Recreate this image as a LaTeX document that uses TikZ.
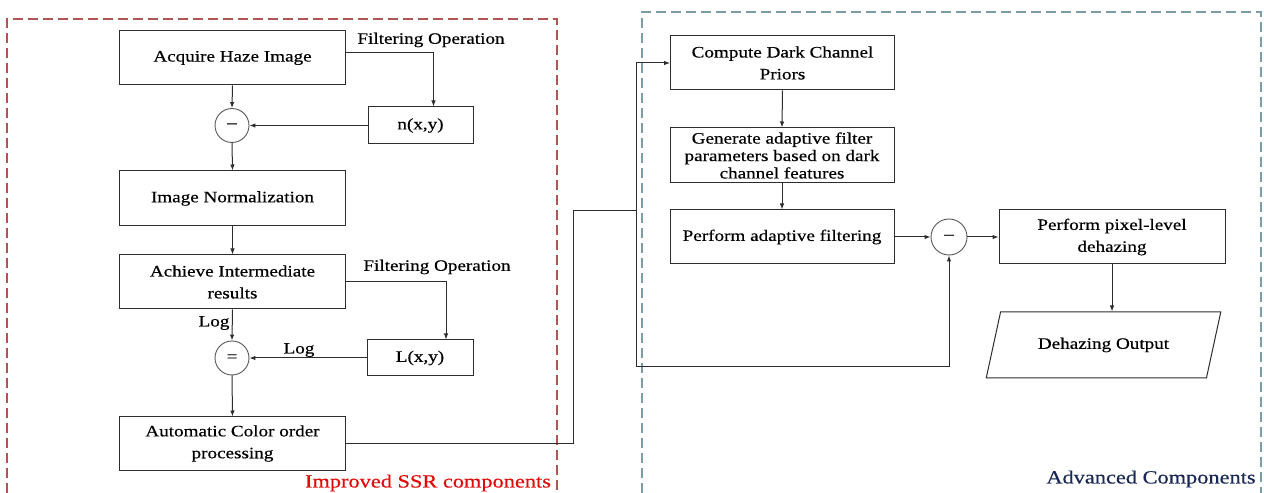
\documentclass[tikz,border=0pt]{standalone}
\usepackage{fontspec}
\setmainfont[FakeStretch=1.2,FakeBold=0.4]{Liberation Serif}
\usetikzlibrary{arrows.meta,shapes.geometric}
\definecolor{framered}{RGB}{176,84,84}
\definecolor{frameblue}{RGB}{125,156,166}
\definecolor{labelred}{RGB}{225,10,10}
\definecolor{labelnavy}{RGB}{25,40,85}
\definecolor{edge}{RGB}{45,45,45}
\tikzset{
  stepbox/.style={draw=edge, line width=1bp, fill=white, align=center,
    font=\fontsize{16}{22}\selectfont, inner sep=2bp},
  opcircle/.style={draw=edge!80, line width=0.9bp, circle, minimum size=34bp,
    inner sep=0pt, font=\fontsize{16}{16}\selectfont},
  wire/.style={draw=edge, line width=1bp},
  arr/.style={wire, -{Latex[length=6bp,width=4.5bp]}},
  tag/.style={font=\fontsize{16}{18}\selectfont, inner sep=1bp},
  area/.style={line width=1.1bp, dash pattern=on 10bp off 5bp},
}
\begin{document}
\begin{tikzpicture}[x=1bp,y=-1bp]
\useasboundingbox (0,0) rectangle (1264,493);
\fill[white] (0,0) rectangle (1264,493);

% component frames (open at the bottom)
\draw[area, framered] (7,493) -- (7,19) -- (557,19) -- (557,493);
\draw[area, frameblue] (642,493) -- (642,12) -- (1261,12) -- (1261,493);
\node[font=\fontsize{18.7}{20}\selectfont, text=labelred] (lblssr) at (428,483) {Improved SSR components};
\node[font=\fontsize{18.7}{20}\selectfont, text=labelnavy] (lbladv) at (1151,479) {Advanced Components};

% improved SSR chain
\node[stepbox, minimum width=225bp, minimum height=54bp] (acq) at (232.5,58) {Acquire Haze Image};
\node[stepbox, minimum width=105bp, minimum height=37bp] (nxy) at (420.5,125.5) {n(x,y)};
\node[opcircle] (sub1) at (232,125.5) {\textendash};
\node[stepbox, minimum width=225bp, minimum height=55bp] (norm) at (232.5,198.5) {Image Normalization};
\node[stepbox, minimum width=225bp, minimum height=54bp] (achv) at (232.5,282) {Achieve Intermediate\\results};
\node[stepbox, minimum width=106bp, minimum height=36bp] (lxy) at (420,358) {L(x,y)};
\node[opcircle] (eq) at (232,358) {=};
\node[stepbox, minimum width=225bp, minimum height=53bp] (acp) at (232.5,443.5) {Automatic Color order\\processing};

\node[tag] (filt1) at (431,40) {Filtering Operation};
\node[tag] (filt2) at (437,267) {Filtering Operation};
\node[tag] (log1) at (214,323) {Log};
\node[tag] (log2) at (299,350) {Log};

\draw[arr] (acq.south) -- (sub1.north);
\draw[arr] ([yshift=5bp]acq.east) -| ([xshift=13bp]nxy.north);
\draw[arr] (nxy.west) -- (sub1.east);
\draw[arr] (sub1.south) -- (norm.north);
\draw[arr] (norm.south) -- (achv.north);
\draw[arr] (achv.east) -| ([xshift=26bp]lxy.north);
\draw[arr] (achv.south) -- (eq.north);
\draw[arr] (lxy.west) -- (eq.east);
\draw[arr] (eq.south) -- (acp.north);

% advanced components chain
\node[stepbox, minimum width=224bp, minimum height=54bp] (dcp) at (782.5,63) {Compute Dark Channel\\Priors};
\node[stepbox, minimum width=224bp, minimum height=55bp, font=\fontsize{16}{17.5}\selectfont] (gen) at (782,155.5) {Generate adaptive filter\\parameters based on dark\\channel features};
\node[stepbox, minimum width=224bp, minimum height=54bp] (paf) at (782,237) {Perform adaptive filtering};
\node[opcircle, minimum size=36bp] (sub2) at (949,237) {\textendash};
\node[stepbox, minimum width=226bp, minimum height=54bp] (pld) at (1112,237) {Perform pixel-level\\dehazing};
\node[stepbox, shape=trapezium, trapezium left angle=63, trapezium right angle=117,
  trapezium stretches=true, minimum width=235bp, minimum height=66bp] (out) at (1103.5,345) {Dehazing Output};

\draw[arr] (dcp.south) -- (gen.north);
\draw[arr] (gen.south) -- (paf.north);
\draw[arr] (paf.east) -- (sub2.west);
\draw[arr] (sub2.east) -- (pld.west);
\draw[arr] (pld.south) -- (pld.south |- out.north);

% link between the two parts
\coordinate (split) at (636,211);
\coordinate (back) at (636,367);
\draw[wire] (acp.east) -- (573,443.5) -- (573,211) -- (split);
\draw[arr] (split) |- (dcp.west);
\draw[arr] (split) -- (back) -| (sub2.south);
\end{tikzpicture}
\end{document}
